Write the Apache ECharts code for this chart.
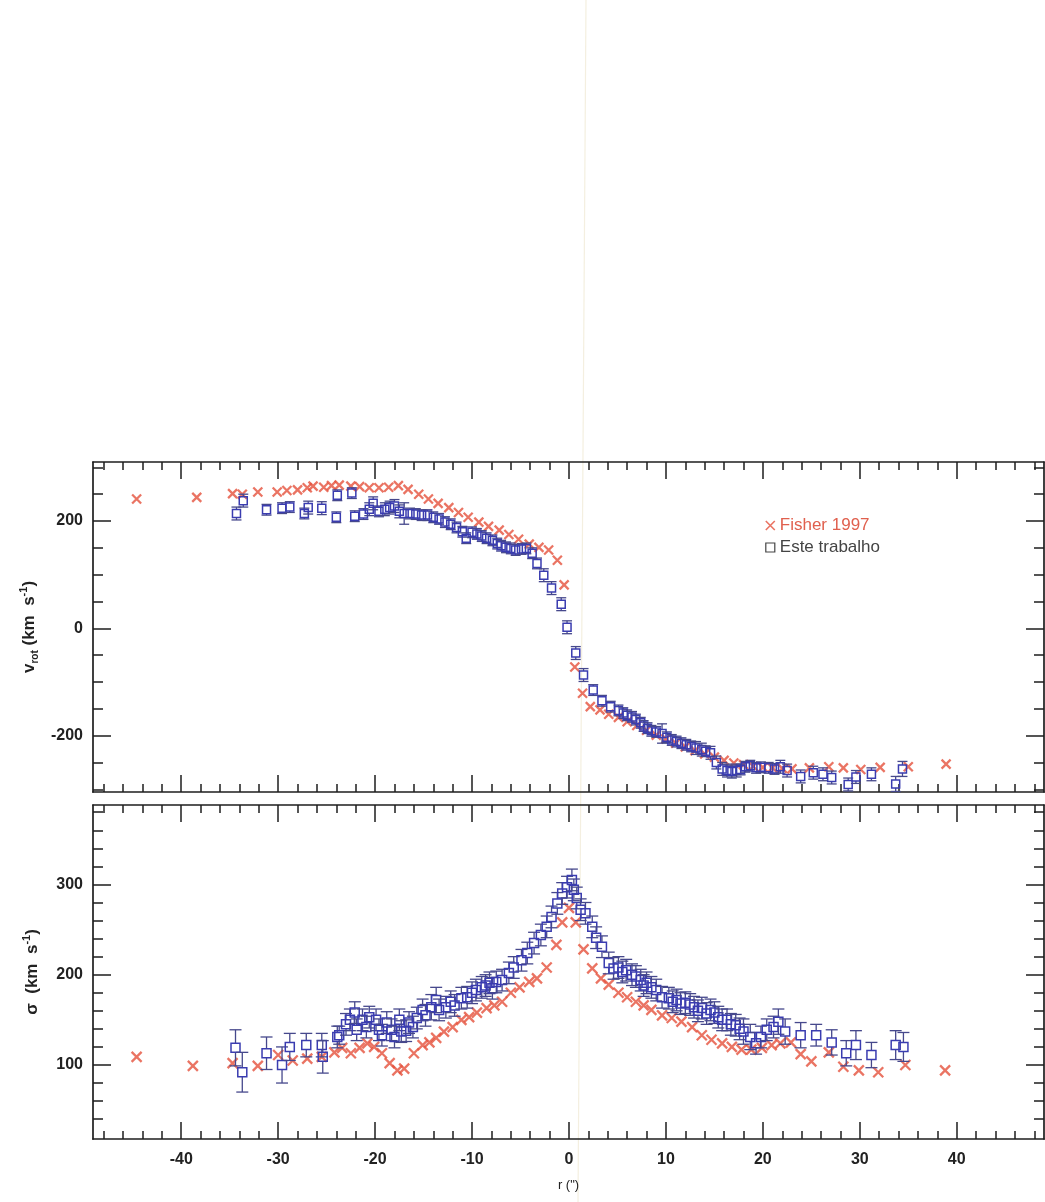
<!DOCTYPE html>
<html>
<head>
<meta charset="utf-8">
<script src="https://cdn.jsdelivr.net/npm/echarts@6/dist/echarts.min.js"></script>
<style>
html,body{margin:0;padding:0;background:#fff;}
#chart{width:1045px;height:1202px;}
</style>
</head>
<body>
<div id="chart"></div>
<script>
// ---------------- DATA ----------------
// Top panel: rotation velocity v_rot (km/s) vs r (arcsec)
const fisherVrotR = [-44.6,-38.4,-34.7,-33.7,-32.1,-30.1,-29.1,-28.0,-27.0,-26.4,-25.3,-24.5,-23.7,-22.5,-21.6,-20.6,-19.6,-18.6,-17.6,-16.6,-15.5,-14.5,-13.5,-12.4,-11.4,-10.4,-9.3,-8.3,-7.2,-6.2,-5.2,-4.1,-3.1,-2.1,-1.2,-0.5,0.6,1.4,2.2,3.2,4.1,5.1,6.0,7.0,8.0,9.0,10.0,11.0,12.0,13.0,14.0,15.0,16.0,17.0,18.0,19.0,20.0,21.0,22.0,23.0,24.8,26.8,28.3,30.1,32.1,35.0,38.9];
const fisherVrotV = [241,244,251,250,254,254,257,258,262,265,263,266,267,265,264,262,262,263,266,259,250,241,233,225,216,207,198,190,183,175,166,157,151,146,127,81,-72,-121,-146,-152,-160,-166,-174,-181,-190,-199,-206,-214,-221,-228,-234,-240,-246,-251,-254,-257,-259,-260,-261,-262,-260,-258,-260,-263,-259,-258,-253];

const esteVrotR = [-34.3,-33.6,-31.2,-29.6,-28.8,-27.3,-26.9,-25.5,-24.0,-23.9,-22.4,-22.1,-21.2,-20.6,-20.2,-19.6,-19.0,-18.5,-18.0,-17.5,-17.0,-16.4,-15.8,-15.2,-14.6,-14.0,-13.4,-12.8,-12.2,-11.6,-11.0,-10.6,-10.0,-9.5,-9.0,-8.5,-7.9,-7.4,-7.0,-6.5,-6.0,-5.5,-4.9,-4.4,-3.8,-3.3,-2.6,-1.8,-0.8,-0.2,0.7,1.5,2.5,3.4,4.3,5.1,5.6,6.0,6.5,6.9,7.4,7.7,8.1,8.5,9.0,9.6,10.1,10.6,11.1,11.6,12.1,12.6,13.1,13.7,14.1,14.6,15.2,15.8,16.3,16.8,17.3,17.7,18.2,18.7,19.3,19.8,20.6,21.2,21.8,22.5,23.9,25.2,26.2,27.1,28.8,29.6,31.2,33.7,34.4];
const esteVrotV = [214,238,221,224,226,214,225,224,207,248,252,209,213,222,233,218,222,225,228,218,214,214,213,211,211,207,204,198,194,188,180,168,179,176,172,168,164,158,154,151,149,146,148,149,140,121,99,75,45,2,-46,-87,-115,-135,-146,-153,-158,-162,-165,-170,-176,-182,-186,-191,-193,-196,-203,-208,-211,-214,-217,-220,-223,-226,-229,-232,-250,-262,-265,-267,-265,-263,-258,-256,-260,-259,-260,-262,-258,-265,-276,-269,-272,-278,-291,-277,-272,-290,-262];
const esteVrotE = [12,12,10,10,10,10,12,12,10,10,10,10,10,12,12,10,12,12,12,12,20,10,10,10,10,10,10,10,10,10,10,10,10,10,10,10,10,10,10,10,10,10,10,10,10,10,12,12,12,12,12,12,10,10,10,10,10,10,10,10,10,10,10,10,10,18,10,10,10,10,10,10,12,12,10,12,12,12,12,12,12,10,10,10,10,10,10,10,12,12,12,12,12,12,12,12,12,14,14];

// Bottom panel: velocity dispersion sigma (km/s) vs r (arcsec)
const fisherSigR = [-44.6,-38.8,-34.7,-32.1,-30.0,-28.5,-27.0,-25.5,-24.2,-23.4,-22.5,-21.6,-20.8,-20.1,-19.3,-18.5,-17.7,-17.0,-16.0,-15.1,-14.4,-13.7,-12.9,-12.0,-11.1,-10.3,-9.5,-8.5,-7.7,-6.9,-6.0,-5.1,-4.1,-3.3,-2.3,-1.3,-0.7,0.0,0.7,1.5,2.4,3.3,4.1,5.1,6.0,6.9,7.7,8.5,9.6,10.6,11.6,12.7,13.7,14.7,15.8,16.8,17.8,18.8,19.9,20.9,21.8,22.9,23.9,25.0,26.8,28.3,29.9,31.9,34.7,38.8];
const fisherSigS = [109,99,102,99,111,105,107,109,114,119,113,119,124,120,113,102,94,96,113,122,125,130,137,142,150,153,158,163,166,170,180,186,192,196,208,233,258,274,258,228,207,196,189,180,175,170,166,161,155,152,148,142,133,128,124,120,117,117,119,122,124,125,112,104,114,98,94,92,100,94];

const esteSigR = [-34.4,-33.7,-31.2,-29.6,-28.8,-27.1,-25.5,-25.4,-23.9,-23.7,-23.0,-22.6,-22.1,-21.9,-21.3,-20.9,-20.6,-19.9,-19.6,-19.3,-18.8,-18.3,-18.0,-17.5,-17.3,-16.8,-16.5,-16.1,-15.7,-15.1,-14.8,-14.2,-13.7,-13.4,-12.7,-12.2,-11.8,-11.1,-10.5,-10.0,-9.6,-9.0,-8.6,-8.2,-7.9,-7.5,-6.9,-6.2,-5.7,-4.9,-4.3,-3.6,-2.9,-2.3,-1.8,-1.2,-0.7,-0.2,0.3,0.5,0.8,1.2,1.7,2.4,2.8,3.4,4.1,4.6,5.1,5.5,5.9,6.5,6.9,7.4,7.7,8.0,8.5,9.0,9.6,10.3,10.7,11.1,11.5,12.0,12.5,12.9,13.3,13.7,14.2,14.6,15.0,15.4,15.8,16.3,16.7,17.2,17.6,18.0,18.7,19.3,19.8,20.4,21.1,21.6,22.3,23.9,25.5,27.1,28.6,29.6,31.2,33.7,34.5];
const esteSigS = [119,92,113,100,120,122,122,109,131,133,145,150,158,139,150,142,153,150,139,133,147,139,131,150,137,138,147,142,152,161,155,164,172,161,164,170,166,174,175,180,183,186,188,191,185,192,194,202,208,216,224,235,244,253,264,279,290,297,305,294,285,272,268,253,241,231,213,207,208,203,205,200,198,194,188,191,186,183,175,174,170,172,168,169,167,164,160,163,157,161,158,153,150,150,145,144,140,137,131,124,131,139,142,148,137,133,133,125,113,122,111,122,120];
const esteSigE = [20,22,18,20,15,13,13,18,12,10,12,12,12,12,12,12,12,12,12,12,12,12,12,12,12,12,12,12,12,12,12,14,14,12,12,12,12,12,12,12,12,12,12,12,12,12,12,12,12,12,12,12,12,12,12,12,12,12,12,12,12,12,12,12,12,12,12,12,12,12,12,12,12,12,12,12,12,12,12,12,12,12,12,12,12,12,12,12,12,12,12,12,12,12,12,12,12,14,14,12,12,12,12,14,14,14,12,14,14,16,14,16,16];

// Axis ticks
const xMajor = [-40,-30,-20,-10,0,10,20,30,40];
const xMinor = [-48,-46,-44,-42,-38,-36,-34,-32,-28,-26,-24,-22,-18,-16,-14,-12,-8,-6,-4,-2,2,4,6,8,12,14,16,18,22,24,26,28,32,34,36,38,42,44,46,48];
const vMajor = [-200,0,200];
const vMinor = [-300,-250,-150,-100,-50,50,100,150,250,300];
const sMajor = [100,200,300];
const sMinor = [40,60,80,120,140,160,180,220,240,260,280,320,340,360,380];

// Legend labels
const seriesNames = ['Fisher 1997','Este trabalho'];

// ---------------- CHART ----------------
const FONT = '"Liberation Sans", Arial, Helvetica, sans-serif';
const AXC = '#1e1e1e';
const RED = '#e5513c';
const BLUE = '#3a3cb0';
const BAR = '#46488c';
const X_MIN = -49.1, X_MAX = 49.0;

function zip2(a,b){ return a.map((v,i)=>[v,b[i]]); }
function zip3(a,b,c){ return a.map((v,i)=>[v,b[i],c[i]]); }

function mkX(g, pos, major, showLab, extra){
  const base = {
    gridIndex:g, type:'value', min:X_MIN, max:X_MAX, position:pos,
    splitLine:{show:false},
    axisLine:{show:major, onZero:false, lineStyle:{color:AXC, width:1.7}},
    axisTick:{show:true, inside:true, length: major?17:8, customValues: major?xMajor:xMinor, lineStyle:{color:AXC, width:1.5}},
    axisLabel:{show: !!showLab, customValues:xMajor, margin:13, fontSize:16, fontWeight:'bold', color:'#222', fontFamily:FONT}
  };
  return Object.assign(base, extra||{});
}
function mkY(g, pos, major, showLab, mn, mx, maj, mnr, extra){
  const base = {
    gridIndex:g, type:'value', min:mn, max:mx, position:pos,
    splitLine:{show:false},
    axisLine:{show:major, onZero:false, lineStyle:{color:AXC, width:1.7}},
    axisTick:{show:true, inside:true, length: major?18:10, customValues: major?maj:mnr, lineStyle:{color:AXC, width:1.5}},
    axisLabel:{show: !!showLab, customValues:maj, margin:10, fontSize:16, fontWeight:'bold', color:'#222', fontFamily:FONT}
  };
  return Object.assign(base, extra||{});
}

const nameRich = {
  b:{fontSize:17, fontWeight:'bold', color:'#222', fontFamily:FONT, lineHeight:22, verticalAlign:'middle'},
  s:{fontSize:10, fontWeight:'bold', color:'#222', fontFamily:FONT, lineHeight:10, verticalAlign:'bottom'},
  p:{fontSize:11, fontWeight:'bold', color:'#222', fontFamily:FONT, lineHeight:11, verticalAlign:'top'}
};

const xAxis = [
  mkX(0,'bottom',true,false), mkX(0,'bottom',false,false),
  mkX(0,'top',true,false), mkX(0,'top',false,false),
  mkX(1,'bottom',true,true,{name:'r (")', nameLocation:'middle', nameGap:40, nameTextStyle:{fontSize:13, color:'#222', fontFamily:FONT}}),
  mkX(1,'bottom',false,false),
  mkX(1,'top',true,false), mkX(1,'top',false,false)
];
const yAxis = [
  mkY(0,'left',true,true,-305,310,vMajor,vMinor,{name:'{b|v}{s|rot}{b| (km  s}{p|-1}{b|)}', nameLocation:'middle', nameRotate:90, nameGap:50, nameTextStyle:{rich:nameRich}}),
  mkY(0,'left',false,false,-305,310,vMajor,vMinor),
  mkY(0,'right',true,false,-305,310,vMajor,vMinor),
  mkY(0,'right',false,false,-305,310,vMajor,vMinor),
  mkY(1,'left',true,true,18,388,sMajor,sMinor,{name:'{b|σ  (km  s}{p|-1}{b|)}', nameLocation:'middle', nameRotate:90, nameGap:50, nameTextStyle:{rich:nameRich}}),
  mkY(1,'left',false,false,18,388,sMajor,sMinor),
  mkY(1,'right',true,false,18,388,sMajor,sMinor),
  mkY(1,'right',false,false,18,388,sMajor,sMinor)
];

const CROSS = 'path://M0,0L10,10M10,0L0,10';

function errBars(capW, box){
  return function(params, api){
    const x = api.value(0), y = api.value(1), e = api.value(2);
    const c = api.coord([x,y]);
    const hi = api.coord([x,y+e]);
    const lo = api.coord([x,y-e]);
    const h = box/2;
    const ls = {stroke:BAR, lineWidth:1.3, fill:null};
    const ch = [];
    if (hi[1] < c[1]-h) ch.push({type:'line', shape:{x1:c[0],y1:hi[1],x2:c[0],y2:c[1]-h}, style:ls});
    if (lo[1] > c[1]+h) ch.push({type:'line', shape:{x1:c[0],y1:c[1]+h,x2:c[0],y2:lo[1]}, style:ls});
    ch.push({type:'line', shape:{x1:c[0]-capW/2,y1:hi[1],x2:c[0]+capW/2,y2:hi[1]}, style:ls});
    ch.push({type:'line', shape:{x1:c[0]-capW/2,y1:lo[1],x2:c[0]+capW/2,y2:lo[1]}, style:ls});
    ch.push({type:'rect', shape:{x:c[0]-h,y:c[1]-h,width:box,height:box}, style:{stroke:BLUE, lineWidth:1.5, fill:null}});
    return {type:'group', children:ch};
  };
}

const option = {
  backgroundColor:'#ffffff',
  animation:false,
  grid:[
    {left:93, top:462, width:951, height:330},
    {left:93, top:805, width:951, height:334}
  ],
  xAxis: xAxis,
  yAxis: yAxis,
  legend:{
    orient:'vertical', left:760, top:512, itemGap:5, itemWidth:9, itemHeight:9,
    textStyle:{fontSize:17, fontFamily:FONT},
    selectedMode:false,
    data:[
      {name:seriesNames[0], icon:CROSS, itemStyle:{color:'rgba(0,0,0,0)', borderColor:RED, borderWidth:1.6}, textStyle:{color:'#e0604e'}},
      {name:seriesNames[1], icon:'rect', itemStyle:{color:'#ffffff', borderColor:'#444', borderWidth:1.2}, textStyle:{color:'#444'}}
    ]
  },
  series:[
    {name:seriesNames[0], type:'scatter', xAxisIndex:0, yAxisIndex:0, data:zip2(fisherVrotR,fisherVrotV),
     symbol:CROSS, symbolSize:9, itemStyle:{color:'rgba(0,0,0,0)', borderColor:RED, borderWidth:2.3}, z:2},
    {name:seriesNames[1], type:'custom', xAxisIndex:0, yAxisIndex:0, data:zip3(esteVrotR,esteVrotV,esteVrotE),
     encode:{x:0,y:1}, renderItem:errBars(10,8), z:3},
    {name:seriesNames[0], type:'scatter', xAxisIndex:4, yAxisIndex:4, data:zip2(fisherSigR,fisherSigS),
     symbol:CROSS, symbolSize:10, itemStyle:{color:'rgba(0,0,0,0)', borderColor:RED, borderWidth:2.3}, z:2},
    {name:seriesNames[1], type:'custom', xAxisIndex:4, yAxisIndex:4, data:zip3(esteSigR,esteSigS,esteSigE),
     encode:{x:0,y:1}, renderItem:errBars(12,9), z:3}
  ],
  graphic:[
    {type:'line', shape:{x1:586,y1:0,x2:578,y2:1202}, style:{stroke:'#f4efe0', lineWidth:1.2}, silent:true, z:-1}
  ]
};

const chart = echarts.init(document.getElementById('chart'), null, {renderer:'canvas'});
chart.setOption(option);
</script>
</body>
</html>
